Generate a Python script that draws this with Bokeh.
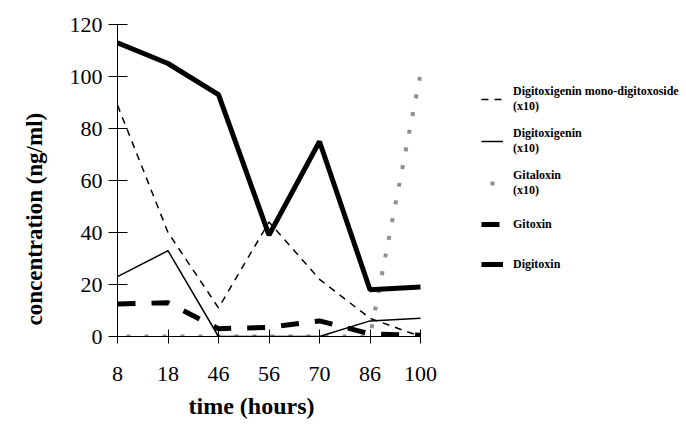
from bokeh.plotting import figure
from bokeh.models import Range1d, Legend, LegendItem, FixedTicker, Title
from bokeh.embed import file_html
from bokeh.resources import INLINE

times = ["8", "18", "46", "56", "70", "86", "100"]
pos = list(range(len(times)))
digitoxin = [113, 105, 93, 39, 75, 18, 19]
mono_digitoxoside = [89, 40, 11, 44, 22, 7, 0]
digitoxigenin = [23, 33, 0, 0, 0, 6, 7]
gitaloxin = [0, 0, 0, 0, 0, 0, 101]
gitoxin = [12.5, 13, 3, 3.5, 6, 1, 0.5]
y_ticks = [0, 20, 40, 60, 80, 100, 120]

# frame spans to the right edge; the data axis occupies the left 303 px
x_end = (len(times) - 1) * (686 - 117) / 303.0

p = figure(width=686, height=425, output_backend="svg", toolbar_location=None,
           x_range=Range1d(0, x_end), y_range=Range1d(0, 120),
           min_border_left=117, min_border_right=0, min_border_top=24, min_border_bottom=89)
p.outline_line_color = None
p.xgrid.visible = False
p.ygrid.visible = False

r_gal = p.line(pos, gitaloxin, line_color="#8f8f8f", line_width=4, line_dash="4 14",
               line_dash_offset=9)
r_mono = p.line(pos, mono_digitoxoside, line_color="black", line_width=1.5, line_dash="7 6")
r_dg = p.line(pos, digitoxigenin, line_color="black", line_width=1.5)
r_gtx = p.line(pos, gitoxin, line_color="black", line_width=5, line_dash="18 16")
r_dtx = p.line(pos, digitoxin, line_color="black", line_width=5)

for ax in (p.xaxis[0], p.yaxis[0]):
    ax.axis_line_color = "black"
    ax.axis_line_width = 1
    ax.major_tick_line_color = "black"
    ax.minor_tick_line_color = None
    ax.major_label_text_font = "Liberation Serif"
    ax.major_label_text_font_size = "22px"
    ax.major_label_text_color = "black"

p.xaxis.ticker = FixedTicker(ticks=pos)
p.xaxis.bounds = (0, len(times) - 1)
p.xaxis.major_label_overrides = {i: t for i, t in zip(pos, times)}
p.xaxis.major_tick_in = 7
p.xaxis.major_tick_out = 7
p.xaxis.major_label_standoff = 23

p.yaxis.ticker = FixedTicker(ticks=y_ticks)
p.yaxis.major_tick_in = 10
p.yaxis.major_tick_out = 9
p.yaxis.major_label_standoff = 6

x_title = Title(text="time (hours)", align="left", offset=71, standoff=14,
                text_font="Liberation Serif", text_font_style="bold",
                text_font_size="24px", text_color="black")
p.add_layout(x_title, "below")

y_title = Title(text="concentration (ng/ml)", align="left", offset=11, standoff=39,
                text_font="Liberation Serif", text_font_style="bold",
                text_font_size="23px", text_color="black")
p.add_layout(y_title, "left")

legend = Legend(items=[
    LegendItem(label="Digitoxigenin mono-digitoxoside\n(x10)", renderers=[r_mono]),
    LegendItem(label="Digitoxigenin\n(x10)", renderers=[r_dg]),
    LegendItem(label="Gitaloxin\n(x10)", renderers=[r_gal]),
    LegendItem(label="Gitoxin", renderers=[r_gtx]),
    LegendItem(label="Digitoxin", renderers=[r_dtx]),
], location=(364, 58))
legend.border_line_color = None
legend.background_fill_alpha = 0
legend.label_text_font = "Liberation Serif"
legend.label_text_font_style = "bold"
legend.label_text_font_size = "12px"
legend.label_text_color = "black"
legend.glyph_width = 22
legend.glyph_height = 14
legend.label_height = 28
legend.label_standoff = 10
legend.spacing = 12
legend.padding = 5
legend.margin = 0
p.add_layout(legend, "center")

open("out.html", "w").write(file_html(p, INLINE))
